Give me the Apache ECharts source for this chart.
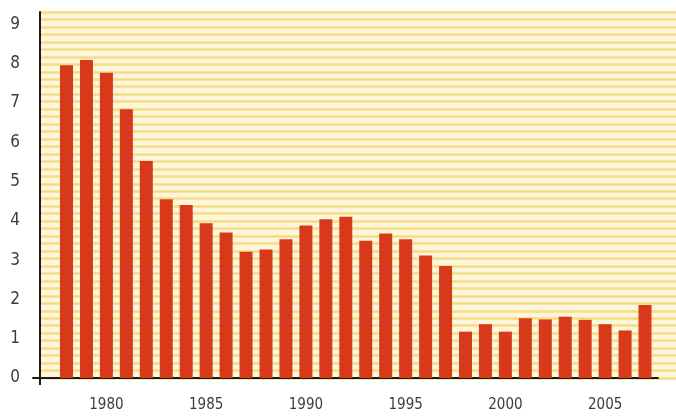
<!DOCTYPE html>
<html>
<head>
<meta charset="utf-8">
<script src="https://cdn.jsdelivr.net/npm/echarts@6/dist/echarts.min.js"></script>
<style>html,body{margin:0;padding:0;background:#fff}#c{width:676px;height:420px}</style>
</head>
<body>
<div id="c"></div>
<script>
const years = [1978,1979,1980,1981,1982,1983,1984,1985,1986,1987,1988,1989,1990,1991,1992,1993,1994,1995,1996,1997,1998,1999,2000,2001,2002,2003,2004,2005,2006,2007];
const values = [7.96,8.09,7.77,6.84,5.52,4.55,4.40,3.94,3.70,3.21,3.27,3.53,3.88,4.04,4.10,3.49,3.68,3.53,3.12,2.85,1.18,1.37,1.18,1.52,1.49,1.56,1.48,1.37,1.21,1.86];
const xTickLabels = [1980,1985,1990,1995,2000,2005];
const yTicks = [0,1,2,3,4,5,6,7,8,9];

const FONT = '"DejaVu Sans Condensed", "Liberation Sans Narrow", sans-serif';
const xMin = 1976.32, xMax = 2007.65, yMax = 9.313;

const chart = echarts.init(document.getElementById('c'), null, {renderer:'canvas'});
chart.setOption({
  animation: false,
  backgroundColor: '#ffffff',
  grid: [
    {left: 40, right: 0, top: 12, bottom: 42, show: true, backgroundColor: '#fdf6df', borderWidth: 0},
    {left: 33, right: 18, top: 12, bottom: 42}
  ],
  xAxis: [
    {type: 'value', gridIndex: 0, show: false, min: 0, max: 1},
    {type: 'value', gridIndex: 1, min: xMin, max: xMax,
      axisLine: {show: true, onZero: false, lineStyle: {color: '#1a1a1a', width: 2}},
      splitLine: {show: false},
      axisTick: {show: true, customValues: [1976.672], length: 7, lineStyle: {color: '#1a1a1a', width: 2}},
      axisLabel: {customValues: xTickLabels, margin: 20, color: '#3c3c3c', fontSize: 15, fontFamily: FONT,
        formatter: v => String(Math.round(v))}
    }
  ],
  yAxis: [
    {type: 'value', gridIndex: 0, min: 0, max: yMax,
      axisLine: {show: true, lineStyle: {color: '#1a1a1a', width: 2}},
      axisTick: {show: false},
      splitLine: {show: false},
      axisLabel: {customValues: yTicks, margin: 20, color: '#3c3c3c', fontSize: 17, fontFamily: FONT,
        verticalAlign: 'middle', padding: [0, 0, 8, 0]}
    },
    {type: 'value', gridIndex: 0, min: 0, max: 49, interval: 1, position: 'right',
      axisLine: {show: false}, axisTick: {show: false}, axisLabel: {show: false},
      splitLine: {show: true, lineStyle: {color: '#f6dc80', width: 2.6}}
    },
    {type: 'value', gridIndex: 1, min: 0, max: yMax, show: false}
  ],
  series: [{
    type: 'bar',
    xAxisIndex: 1, yAxisIndex: 2,
    barWidth: 13,
    itemStyle: {color: '#d8391b'},
    data: years.map((y, i) => [y, values[i]])
  }]
});
</script>
</body>
</html>
